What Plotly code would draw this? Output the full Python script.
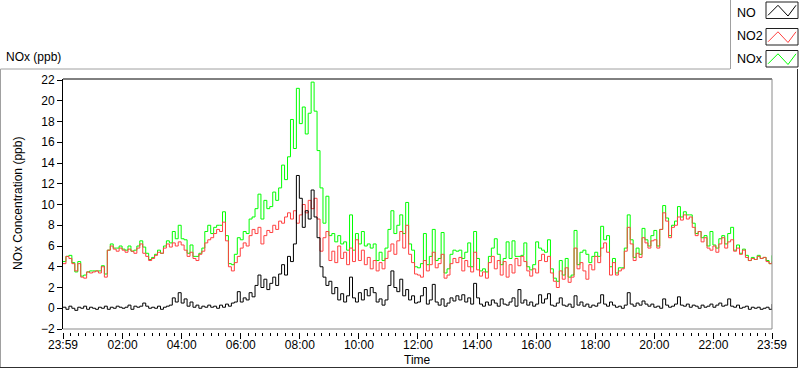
import plotly.graph_objects as go

# 6-minute samples, hours after 23:59 (0 .. 24)
STEP_H = 0.1

NO = [
    0.1, -0.1, 0.2, 0.0, -0.2, 0.1, 0.0, 0.2, -0.1, 0.1,
    0.0, -0.1, 0.1, 0.0, 0.2, -0.1, 0.1, 0.0, 0.2, 0.1,
    0.0, 0.1, 0.3, -0.1, 0.2, 0.1, 0.2, 0.5, 0.2, 0.0,
    0.1, 0.0, 0.2, -0.1, 0.1, 0.2, 0.3, 1.0, 0.6, 1.5,
    0.5, 0.9, 0.2, 0.6, 0.1, 0.3, 0.0, 0.2, 0.1, 0.3,
    0.1, 0.2, 0.0, 0.3, 0.1, 0.4, 0.2, 0.5, 0.6, 1.6,
    0.6, 1.0, 0.8, 1.5, 1.1, 2.2, 3.2, 2.0, 2.8, 1.8,
    2.4, 3.0, 2.2, 3.3, 4.2, 3.2, 5.0, 4.5, 6.2, 12.8,
    10.6, 7.8, 9.4, 8.6, 11.4, 8.8, 6.8, 4.0, 3.0, 2.2,
    2.6, 1.4, 2.0, 0.8, 1.4, 0.6, 1.2, 3.0, 1.0, 0.6,
    1.5, 0.8, 1.8, 1.2, 2.0, 1.5, 0.6, 0.9, 0.3, 0.8,
    2.2, 3.6, 2.0, 1.6, 2.8, 1.2, 1.8, 0.8, 1.2, 0.5,
    0.6, 1.2, 2.0, 0.4, 0.8, 2.3, 0.6, 0.3, 0.9, 0.2,
    0.5, 1.0, 0.7, 1.2, 0.8, 1.3, 0.6, 1.0, 0.4, 2.4,
    1.0, 0.4, 0.2, 0.6, 0.3, 0.8, 0.5, 0.2, 0.9, 0.4,
    0.3, 0.6, 1.0, 0.2, 1.8, 0.5, 0.8, 0.3, 0.6, 0.2,
    0.4, 1.3, 0.5, 0.9, 1.4, 0.3, 0.2, 0.5, 1.0, 0.3,
    0.2, 0.4, 0.1, 1.2, 0.3, 0.6, 0.2, 0.4, 0.1, 0.3,
    0.2, 0.5, 1.3, 0.4, 0.2, 0.6, 0.3, 0.1, 0.2, 0.0,
    0.3, 1.5, 0.4, 0.2, 0.5, 0.3, 0.7, 0.4, 0.2, 0.4,
    0.1, 0.2, 0.0, 0.9, 0.3, 0.1, 0.2, 0.4, 1.1, 0.3,
    0.2, 0.4, 0.1, 0.3, 0.2, 0.0, 0.3, 0.1, 0.2, 0.4,
    0.1, 0.3, 0.5, 0.2, 0.3, 0.9, 0.2, 0.1, 0.3, 0.0,
    0.1, 0.2, -0.1, 0.1, 0.0, 0.1, -0.1, 0.0, 0.1, -0.1,
    0.4,
]

NO2 = [
    4.3, 5.0, 4.8, 4.3, 3.6, 4.3, 3.0, 2.9, 3.5, 3.4,
    3.5, 3.6, 3.4, 4.0, 3.0, 5.6, 6.0, 5.7, 5.5, 5.8,
    5.6, 5.4, 5.7, 5.5, 5.3, 5.8, 6.2, 5.3, 5.0, 4.6,
    4.8, 5.1, 5.4, 5.3, 5.8, 6.2, 5.9, 6.3, 6.0, 6.4,
    6.1, 5.6, 5.0, 5.4, 4.8, 4.6, 5.2, 5.5, 6.3, 6.6,
    6.8, 7.2, 7.6, 7.4, 8.3, 6.5, 4.0, 3.6, 4.4, 5.0,
    5.8, 6.3, 6.0, 7.0, 7.6, 7.2, 7.8, 6.2, 7.0, 7.5,
    7.3, 8.0, 7.6, 8.4, 8.2, 8.8, 9.2, 8.6, 9.4, 8.2,
    9.0, 10.0, 9.2, 10.4, 9.6, 10.6, 8.6, 5.5, 6.8, 7.4,
    4.6, 5.5, 4.4, 6.0, 4.8, 5.4, 4.2, 5.8, 4.5, 6.6,
    4.6, 5.6, 4.2, 4.9, 3.8, 4.6, 3.6, 4.4, 3.8, 4.8,
    5.5, 6.2, 5.2, 6.5, 7.4, 5.8, 8.0, 5.2, 4.4, 3.3,
    3.2, 3.0, 4.6, 3.6, 4.2, 5.4, 3.9, 4.3, 5.2, 2.9,
    3.2, 4.3, 4.8, 4.4, 4.9, 3.6, 4.6, 4.0, 3.5, 5.4,
    3.7, 3.1, 3.5, 2.9, 4.4, 5.0, 3.8, 4.6, 3.2, 4.5,
    3.0, 4.2, 3.4, 4.8, 4.1, 5.0, 4.5, 3.6, 3.1, 3.8,
    3.4, 4.6, 5.2, 4.5, 5.0, 3.4, 2.6, 2.0, 3.6, 2.8,
    3.9, 2.5, 3.0, 5.8, 3.8, 4.4, 3.6, 2.8, 4.2, 3.7,
    5.0, 4.4, 5.8, 6.3, 5.4, 3.2, 4.4, 3.2, 3.6, 3.8,
    5.5, 7.8, 6.2, 4.6, 5.3, 4.9, 6.8, 6.3, 5.8, 6.5,
    6.6, 5.8, 7.6, 9.2, 8.4, 6.8, 7.8, 8.0, 8.8, 8.5,
    9.0, 8.6, 8.8, 7.8, 7.0, 7.4, 6.4, 6.8, 5.8, 5.6,
    6.0, 5.4, 6.2, 6.8, 5.8, 6.4, 6.6, 5.5, 5.8, 5.2,
    5.6, 4.9, 4.6, 4.8, 4.7, 5.0, 4.8, 4.9, 4.5, 4.3,
    4.5,
]

NOX = [
    4.5, 5.0, 5.1, 4.4, 3.5, 4.5, 3.1, 3.2, 3.5, 3.6,
    3.6, 3.6, 3.6, 4.1, 3.3, 5.6, 6.2, 5.8, 5.8, 6.0,
    5.7, 5.6, 6.0, 5.5, 5.6, 6.0, 6.5, 5.9, 5.3, 4.7,
    4.9, 5.2, 5.6, 5.3, 6.0, 6.5, 6.3, 7.4, 6.7, 8.0,
    6.7, 6.6, 5.3, 6.1, 5.0, 5.0, 5.3, 5.8, 7.4, 8.0,
    7.2, 7.8, 8.0, 8.0, 9.3, 7.0, 4.3, 4.2, 5.2, 6.8,
    6.6, 7.4, 7.2, 8.6, 8.8, 9.6, 11.0, 8.6, 10.4, 9.6,
    9.8, 11.2, 10.4, 11.6, 13.8, 12.4, 14.6, 18.2, 15.4, 21.2,
    17.8, 19.4, 16.8, 18.8, 21.8, 19.0, 15.2, 11.6, 8.2, 10.8,
    7.0, 7.2, 6.4, 7.0, 6.2, 6.4, 5.6, 9.0, 5.6, 7.2,
    6.2, 7.4, 6.0, 6.2, 5.8, 6.2, 4.6, 5.4, 4.6, 5.8,
    7.6, 9.4, 7.2, 8.0, 9.0, 7.2, 10.2, 6.2, 5.6, 4.0,
    3.9, 4.3, 7.2, 4.2, 5.0, 7.6, 4.6, 4.8, 7.3, 3.4,
    3.8, 5.2, 5.6, 5.5, 5.6, 4.8, 5.4, 6.3, 4.0, 7.4,
    4.8, 3.6, 3.8, 3.5, 5.0, 5.8, 6.7, 5.2, 4.2, 4.8,
    6.4, 4.8, 6.5, 5.0, 5.0, 5.1, 6.3, 4.0, 3.7, 4.2,
    6.4, 5.8, 5.6, 5.4, 6.6, 3.8, 2.9, 2.6, 4.6, 3.2,
    4.8, 3.0, 3.2, 7.5, 4.2, 5.4, 5.6, 5.2, 4.4, 5.0,
    5.4, 5.0, 7.9, 6.6, 7.0, 4.0, 4.8, 3.4, 3.9, 3.9,
    5.8, 9.0, 6.6, 4.9, 5.8, 5.2, 7.7, 6.6, 6.0, 7.0,
    7.5, 6.0, 7.6, 9.9, 8.7, 7.0, 8.0, 8.4, 9.8, 8.8,
    9.3, 9.0, 9.0, 8.2, 7.2, 7.4, 6.8, 7.0, 6.0, 7.4,
    6.1, 5.8, 6.7, 7.0, 6.2, 7.2, 7.8, 5.6, 6.1, 5.3,
    5.7, 5.1, 4.6, 4.9, 4.7, 5.1, 4.8, 4.9, 4.6, 4.3,
    5.1,
]

TICK_LABELS = ["23:59", "02:00", "04:00", "06:00", "08:00", "10:00", "12:00",
               "14:00", "16:00", "18:00", "20:00", "22:00", "23:59"]
TICK_HOURS = [0.0, 2 + 1/60, 4 + 1/60, 6 + 1/60, 8 + 1/60, 10 + 1/60, 12 + 1/60,
              14 + 1/60, 16 + 1/60, 18 + 1/60, 20 + 1/60, 22 + 1/60, 24.0]

SERIES = [("NO", NO, "#000000"), ("NO2", NO2, "#ff4040"), ("NOx", NOX, "#00ff00")]

t = [i * STEP_H for i in range(len(NO))]

W, H = 800, 369
L, R, T, B = 63, 28, 79, 37
PW, PH = W - L - R, H - T - B


def px(x):
    return (x - L) / PW


def py(y):
    return (H - B - y) / PH


FONT = "Liberation Sans"

fig = go.Figure()
# drawn bottom-to-top: NOx, NO2, NO (NO on top)
for name, vals, col in reversed(SERIES):
    fig.add_trace(go.Scatter(x=t, y=vals, mode="lines", name=name,
                             line=dict(color=col, width=1, shape="hv"),
                             showlegend=False, hoverinfo="skip"))

minor_vals = [1/60 + k * 0.25 for k in range(-1, 97)]
minor_vals = [v for v in minor_vals if 0 <= v <= 24]

fig.update_layout(
    width=W, height=H,
    margin=dict(l=L, r=R, t=T, b=B),
    paper_bgcolor="white", plot_bgcolor="white",
    font=dict(family=FONT, size=12, color="black"),
    xaxis=dict(range=[0, 24], tickmode="array", tickvals=TICK_HOURS, ticktext=TICK_LABELS,
               showgrid=False, zeroline=False, showline=False,
               ticks="outside", ticklen=6, tickcolor="black", tickwidth=1,
               ticklabelstandoff=-4,
               anchor="free", position=0,
               tickfont=dict(family=FONT, size=12, color="black"),
               minor=dict(tickmode="array", tickvals=minor_vals, ticks="outside",
                          ticklen=3, tickcolor="black", tickwidth=1, showgrid=False)),
    yaxis=dict(range=[-2, 22.1], domain=[3 / PH, 1], dtick=2, tick0=0,
               showgrid=False, zeroline=False, showline=True, linecolor="black", linewidth=1,
               ticks="outside", ticklen=5, tickcolor="black",
               tickfont=dict(family=FONT, size=12, color="black")),
)

shapes = []


def seg(x0, y0, x1, y1, color, width=1):
    shapes.append(dict(type="line", xref="paper", yref="paper",
                       x0=px(x0), y0=py(y0), x1=px(x1), y1=py(y1),
                       line=dict(color=color, width=width)))


# plot frame: top black, right & bottom gray
seg(L, 79, L + PW, 79, "black")
seg(L + PW, 79, L + PW, 329, "#8a8a8a")
seg(L, 329, L + PW, 329, "#8a8a8a")
# outer panel frame
seg(0.5, 69, 730, 69, "#a0a0a0")
seg(0.5, 69, 0.5, 368, "#a0a0a0")
seg(0, 367.5, 797.5, 367.5, "#303030")
seg(797.5, 69, 797.5, 367.5, "#303030")
seg(730.5, 0, 730.5, 69, "#a0a0a0")

# legend
legend_rows = [(2, 13), (28.5, 36), (50.5, 59)]
annotations = []
for (name, vals, col), (btop, ty) in zip(SERIES, legend_rows):
    shapes.append(dict(type="rect", xref="paper", yref="paper",
                       x0=px(766), y0=py(btop), x1=px(798), y1=py(btop + 16.5),
                       line=dict(color="#202020", width=1), fillcolor="white"))
    pts = [(768, btop + 13.3), (778, btop + 3.3), (788, btop + 14), (796, btop + 3.3)]
    path = "M " + " L ".join(f"{px(a):.5f},{py(b):.5f}" for a, b in pts)
    shapes.append(dict(type="path", xref="paper", yref="paper", path=path,
                       line=dict(color=col, width=1)))
    annotations.append(dict(text=name, x=px(735), y=py(ty), xref="paper", yref="paper",
                            xanchor="left", yanchor="middle", showarrow=False,
                            font=dict(family=FONT, size=12.5, color="black")))

annotations += [
    dict(text="NOx (ppb)", x=px(4), y=py(57), xref="paper", yref="paper",
         xanchor="left", yanchor="middle", showarrow=False,
         font=dict(family=FONT, size=12, color="black")),
    dict(text="NOx Concentration (ppb)", x=px(18), y=py(204), xref="paper", yref="paper",
         xanchor="center", yanchor="middle", textangle=-90, showarrow=False,
         font=dict(family=FONT, size=12, color="black")),
    dict(text="Time", x=px(417), y=py(360), xref="paper", yref="paper",
         xanchor="center", yanchor="middle", showarrow=False,
         font=dict(family=FONT, size=12, color="black")),
]

fig.update_layout(shapes=shapes, annotations=annotations)
fig.write_html("out.html", config={"displayModeBar": False},
               post_script="document.body.style.margin='0';document.body.style.padding='0';")
